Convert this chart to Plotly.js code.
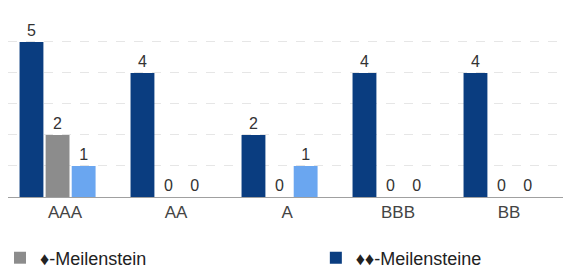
<!DOCTYPE html>
<html>
<head>
<meta charset="utf-8">
<script src="https://cdn.plot.ly/plotly-3.0.1.min.js"></script>
<style>html,body{margin:0;padding:0;background:#fff;}#chart{width:563px;height:271px;}</style>
</head>
<body>
<div id="chart"></div>
<script>
var categories = ["AAA", "AA", "A", "BBB", "BB"];
var seriesNames = ["\u2666-Meilenstein", "\u2666\u2666-Meilensteine", "\u2666\u2666\u2666-Meilensteine"];
var twoMilestones = [5, 4, 2, 4, 4];
var oneMilestone = [2, 0, 0, 0, 0];
var threeMilestones = [1, 0, 1, 0, 0];

var colors = {dark: "#0a3d80", gray: "#8c8c8c", light: "#6aa6f0"};
var barW = 0.215;
var slot = 0.235;
var first = -0.41;
var FONT = "Liberation Sans, Arial, sans-serif";

function bar(name, vals, color, idx, showLeg, legendId) {
  return {
    type: "bar", name: name, x: categories, y: vals,
    width: barW, offset: first + idx * slot,
    marker: {color: color},
    text: vals.map(String), textposition: "outside",
    textfont: {family: FONT, size: 16, color: "#333"},
    cliponaxis: false, showlegend: showLeg, legend: legendId,
    hoverinfo: "x+y"
  };
}

var data = [
  bar(seriesNames[1], twoMilestones, colors.dark, 0, true, "legend2"),
  bar(seriesNames[0], oneMilestone, colors.gray, 1, true, "legend"),
  bar(seriesNames[2], threeMilestones, colors.light, 2, false, "legend")
];

var legendFont = {family: FONT, size: 18, color: "#222"};
var layout = {
  width: 563, height: 271,
  margin: {l: 8, r: 0, t: 10, b: 74},
  paper_bgcolor: "#fff", plot_bgcolor: "#fff",
  barmode: "overlay",
  showlegend: true,
  legend: {orientation: "h", xref: "container", yref: "container",
           x: -0.0142, xanchor: "left", y: 0.048, yanchor: "middle",
           font: legendFont, bgcolor: "rgba(0,0,0,0)"},
  legend2: {orientation: "h", xref: "container", yref: "container",
            x: 0.561, xanchor: "left", y: 0.048, yanchor: "middle",
            font: legendFont, bgcolor: "rgba(0,0,0,0)"},
  xaxis: {type: "category", range: [-0.514, 4.486], showgrid: false, zeroline: false,
          showline: true, linecolor: "#a0a0a0", linewidth: 1, ticks: "", automargin: false,
          tickfont: {family: FONT, size: 17, color: "#444"}},
  yaxis: {range: [0, 6.03], dtick: 1, showgrid: true, gridcolor: "#e6e6e6", griddash: "dash",
          zeroline: false, showticklabels: false, ticks: "", showline: false, automargin: false},
  font: {family: FONT}
};

Plotly.newPlot("chart", data, layout, {displayModeBar: false, staticPlot: true});
</script>
</body>
</html>
